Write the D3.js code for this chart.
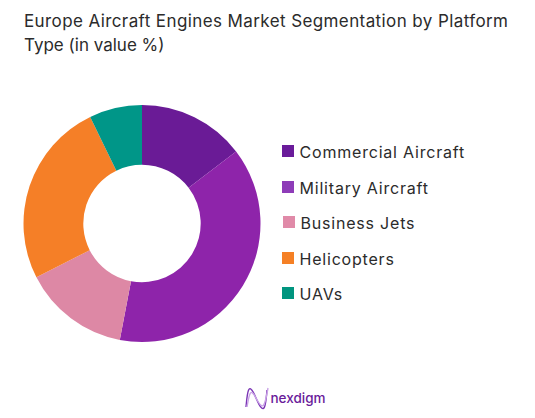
<!DOCTYPE html>
<html>
<head>
<meta charset="utf-8">
<script src="https://d3js.org/d3.v7.min.js"></script>
<style>
html,body{margin:0;padding:0;background:#fff;}
text{font-family:Inter,"Open Sans",sans-serif;}
</style>
</head>
<body>
<div class="canva"></div>
<script>
const categories=["Commercial Aircraft","Military Aircraft","Business Jets","Helicopters","UAVs"];
const values=[14.6,38.4,14.5,25.3,7.2];
const colors=["#6a1b96","#8e24aa","#dd88a5","#f57f27","#009688"];
const swatches=["#6a1b9a","#8e3cb8","#e08aa8","#f58025","#00957f"];
const titleLines=["Europe Aircraft Engines Market Segmentation by Platform","Type (in value %)"];
const titleSpacing=[0.4,0];
const legendY=[151,187,222,258,293];
const legendX=[282,282,283,282,282];

const svg=d3.select(".canva").append("svg")
    .attr("width",535)
    .attr("height",418)
    .style("display","block");

// title
svg.selectAll(".title")
    .data(titleLines)
    .enter().append("text")
    .attr("class","title")
    .attr("x",24)
    .attr("y",(d,i)=>27+i*23.5)
    .attr("font-size",17)
    .attr("letter-spacing",(d,i)=>titleSpacing[i])
    .attr("fill","#2b2b2b")
    .text(d=>d);

// donut
const pie=d3.pie().sort(null);
const arc=d3.arc().innerRadius(58.7).outerRadius(118.5);
svg.append("g")
    .attr("transform","translate(142,223.5)")
    .selectAll("path")
    .data(pie(values))
    .enter().append("path")
    .attr("d",arc)
    .attr("fill",(d,i)=>colors[i]);

// legend
const legend=svg.selectAll(".legend")
    .data(categories)
    .enter().append("g")
    .attr("class","legend")
    .attr("transform",(d,i)=>"translate("+legendX[i]+","+legendY[i]+")");
legend.append("rect")
    .attr("x",0)
    .attr("y",-6)
    .attr("width",12)
    .attr("height",12)
    .attr("fill",(d,i)=>swatches[i]);
legend.append("text")
    .attr("x",17.5)
    .attr("y",7)
    .attr("font-size",16)
    .attr("letter-spacing",0.8)
    .attr("fill","#2b2b2b")
    .text(d=>d);

// logo
const logo=svg.append("g").attr("transform","translate(245,388)");
const wave=d3.line().curve(d3.curveBasis);
[[[1,19],[3,-2],[8,2],[14,18],[20,24],[22,2]],[[2,19],[5,2],[9,6],[13,14],[19,22],[23,0]]].forEach((pts,i)=>{
    logo.append("path")
        .attr("d",wave(pts))
        .attr("fill","none")
        .attr("stroke",i?"#c9a3e6":"#7b35b5")
        .attr("stroke-width",1.4);
});
logo.append("text")
    .attr("x",25.5)
    .attr("y",15)
    .attr("font-size",13.5)
    .attr("font-weight",500)
    .attr("fill","#6a1b9a")
    .text("nexdigm");
</script>
</body>
</html>
